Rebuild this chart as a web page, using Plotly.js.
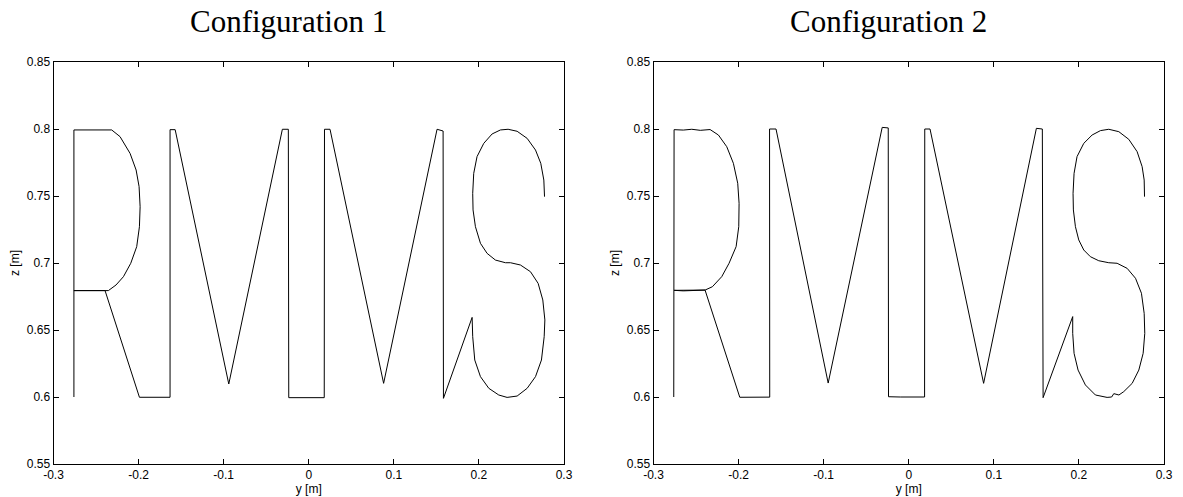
<!DOCTYPE html>
<html>
<head>
<meta charset="utf-8">
<script src="https://cdn.plot.ly/plotly-3.0.1.min.js"></script>
<style>html,body{margin:0;padding:0;background:#fff;}#chart{width:1183px;height:497px;}</style>
</head>
<body>
<div id="chart"></div>
<script>
// ---- Data ----
const titles = ["Configuration 1", "Configuration 2"];
const xTickVals = [-0.3, -0.2, -0.1, 0, 0.1, 0.2, 0.3];
const xTickText = ["-0.3", "-0.2", "-0.1", "0", "0.1", "0.2", "0.3"];
const yTickVals = [0.55, 0.6, 0.65, 0.7, 0.75, 0.8, 0.85];
const yTickText = ["0.55", "0.6", "0.65", "0.7", "0.75", "0.8", "0.85"];
const xLabel = "y [m]";
const yLabel = "z [m]";

// Configuration 1 trajectory (y, z)
const y1 = [
  -0.276, -0.276, -0.2316,
  -0.2218, -0.21, -0.2029, -0.1994, -0.1982, -0.199, -0.2022, -0.2092, -0.2178, -0.2265, -0.2355,
  -0.276, -0.2394, -0.199, -0.163, -0.163, -0.157,
  -0.094, -0.031, -0.024, -0.0235, 0.0182, 0.0185, 0.025,
  0.088, 0.1508, 0.1579, 0.1583, 0.192,
  0.1927, 0.1951, 0.2018, 0.2116, 0.2233, 0.2331, 0.2449, 0.2567, 0.2665, 0.2735, 0.2767,
  0.2775, 0.2751, 0.2696, 0.2606, 0.2488, 0.2371, 0.2312, 0.2194, 0.2096, 0.2018, 0.1959,
  0.1931, 0.1927, 0.1939, 0.1978, 0.2057, 0.2155, 0.2253, 0.2343, 0.2449, 0.2567, 0.2665,
  0.2727, 0.2763, 0.2771
];
const z1 = [
  0.6, 0.7993, 0.7993,
  0.7943, 0.7818, 0.7694, 0.757, 0.742, 0.7271, 0.7122, 0.6998, 0.6898, 0.6836, 0.6794,
  0.6794, 0.6794, 0.5998, 0.5998, 0.7995, 0.7995,
  0.6097, 0.7998, 0.7998, 0.5995, 0.5995, 0.7998, 0.7998,
  0.6102, 0.7998, 0.7985, 0.599, 0.6594,
  0.645, 0.6276, 0.6152, 0.6065, 0.6015, 0.5997, 0.6007, 0.6065, 0.6152, 0.6276, 0.645,
  0.6575, 0.6724, 0.6848, 0.6935, 0.6985, 0.7002, 0.7002, 0.7022, 0.7072, 0.7147, 0.7271,
  0.7396, 0.752, 0.7669, 0.7794, 0.7893, 0.7963, 0.7993, 0.7998, 0.7983, 0.793, 0.7843,
  0.7744, 0.7619, 0.7495
];

// Configuration 2 trajectory (y, z)
const y2 = [
  -0.2762, -0.2758, -0.265, -0.255, -0.245, -0.2335,
  -0.2237, -0.2139, -0.2061, -0.201, -0.1994, -0.1998, -0.2029, -0.2112, -0.2198, -0.2308, -0.2394,
  -0.265, -0.2758, -0.2394, -0.1986, -0.18, -0.1634, -0.1636, -0.156,
  -0.0947, -0.0312, -0.0241, -0.0238, -0.01, 0.0186, 0.0188, 0.025,
  0.088, 0.15, 0.157, 0.1579, 0.1927,
  0.1927, 0.1943, 0.199, 0.2076, 0.2194, 0.2331, 0.2385, 0.241, 0.247, 0.2527, 0.2626, 0.2704, 0.2755,
  0.2774, 0.2767, 0.2735, 0.2665, 0.2567, 0.2449, 0.2351, 0.2233, 0.2135, 0.2057, 0.1998,
  0.1959, 0.1935, 0.1931, 0.1943, 0.1978, 0.2057, 0.2155, 0.2253, 0.2351, 0.2469, 0.2586,
  0.2684, 0.2743, 0.2767, 0.2771
];
const z2 = [
  0.6, 0.7995, 0.7992, 0.7998, 0.799, 0.7996,
  0.7955, 0.7868, 0.7744, 0.7595, 0.7445, 0.7271, 0.7122, 0.6998, 0.6898, 0.6823, 0.6798,
  0.6792, 0.6796, 0.6798, 0.5998, 0.6001, 0.5999, 0.8, 0.8,
  0.6104, 0.8012, 0.8008, 0.6002, 0.6, 0.6, 0.8, 0.8,
  0.6102, 0.8005, 0.8, 0.5995, 0.66,
  0.6475, 0.6326, 0.6201, 0.609, 0.6015, 0.5997, 0.6, 0.6025, 0.6015, 0.604, 0.6102, 0.6201, 0.6326,
  0.6475, 0.6624, 0.6774, 0.6886, 0.696, 0.6998, 0.7002, 0.7017, 0.7047, 0.7097, 0.7172,
  0.7271, 0.7396, 0.752, 0.7669, 0.7794, 0.7893, 0.7955, 0.7988, 0.7998, 0.798, 0.7923,
  0.7831, 0.7719, 0.7619, 0.7495
];

// ---- Layout helpers ----
const W = 1183, H = 497;
const tickFont = {family: "Liberation Sans, Arial, sans-serif", size: 12, color: "#000"};
function xAxis(x0, x1, anchor) {
  return {
    domain: [x0 / W, x1 / W], anchor: anchor, range: [-0.3, 0.3],
    tickmode: "array", tickvals: xTickVals, ticktext: xTickText,
    ticks: "inside", ticklen: 5, tickcolor: "#000", tickwidth: 1,
    showline: true, linecolor: "#000", linewidth: 1, mirror: "ticks",
    showgrid: false, zeroline: false, tickfont: tickFont,
    title: {text: xLabel, font: tickFont, standoff: 2}
  };
}
function yAxis(anchor) {
  return {
    domain: [1 - 464 / H, 1 - 62 / H], anchor: anchor, range: [0.55, 0.85],
    tickmode: "array", tickvals: yTickVals, ticktext: yTickText,
    ticks: "inside", ticklen: 5, tickcolor: "#000", tickwidth: 1,
    showline: true, linecolor: "#000", linewidth: 1, mirror: "ticks",
    showgrid: false, zeroline: false, tickfont: tickFont,
    title: {text: yLabel, font: tickFont, standoff: 4}
  };
}

const lineStyle = {color: "#000", width: 1};
const data = [
  {x: y1, y: z1, type: "scatter", mode: "lines", line: lineStyle, xaxis: "x", yaxis: "y", hoverinfo: "skip"},
  {x: y2, y: z2, type: "scatter", mode: "lines", line: lineStyle, xaxis: "x2", yaxis: "y2", hoverinfo: "skip"}
];

const titleFont = {family: "Liberation Serif, Times New Roman, serif", size: 31, color: "#000"};
const layout = {
  width: W, height: H,
  margin: {l: 0, r: 0, t: 0, b: 0},
  paper_bgcolor: "#fff", plot_bgcolor: "#fff",
  showlegend: false,
  xaxis: xAxis(53.5, 564, "y"),
  yaxis: yAxis("x"),
  xaxis2: xAxis(653.5, 1164, "y2"),
  yaxis2: yAxis("x2"),
  annotations: [
    {text: titles[0], xref: "paper", yref: "paper", x: 288 / W, y: 1 - 22 / H, xanchor: "center", yanchor: "middle", showarrow: false, font: titleFont},
    {text: titles[1], xref: "paper", yref: "paper", x: 888 / W, y: 1 - 22 / H, xanchor: "center", yanchor: "middle", showarrow: false, font: titleFont}
  ]
};

Plotly.newPlot("chart", data, layout, {displayModeBar: false, staticPlot: true});
</script>
</body>
</html>
